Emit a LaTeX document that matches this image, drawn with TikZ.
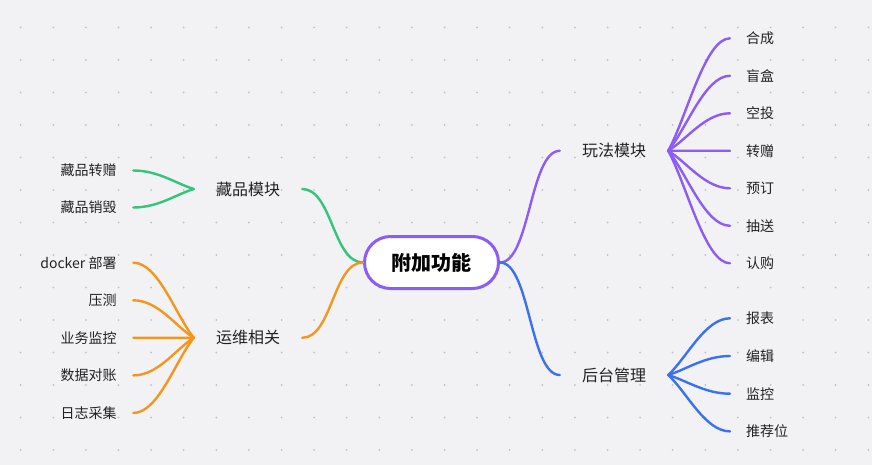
\documentclass[tikz,border=0pt]{standalone}
\usepackage{fontspec}
\setmainfont{Noto Sans CJK SC}
\usetikzlibrary{calc}
\definecolor{bgc}{RGB}{242,242,245}
\definecolor{dotc}{RGB}{192,192,198}
\definecolor{cpurple}{RGB}{139,92,246}
\definecolor{cgreen}{RGB}{52,196,122}
\definecolor{corange}{RGB}{243,150,30}
\definecolor{cblue}{RGB}{58,113,242}
\definecolor{txt}{RGB}{34,34,34}
\begin{document}
\begin{tikzpicture}[x=1pt,y=-1pt,
  rootbox/.style={draw=cpurple, line width=3pt, fill=white, rounded corners=26pt, minimum width=134pt, minimum height=52pt, inner sep=0pt, font=\fontsize{20}{24}\selectfont\bfseries, text=black},
  branchbox/.style={inner xsep=22pt, inner ysep=3pt, font=\fontsize{16}{19}\selectfont, text=txt},
  leafL/.style={anchor=east, inner xsep=16.6pt, inner ysep=2pt, font=\fontsize{14}{17}\selectfont, text=txt},
  leafR/.style={anchor=west, inner xsep=16pt, inner ysep=2pt, font=\fontsize{14}{17}\selectfont, text=txt},
  link/.style={line width=2.4pt, line cap=round},
]
\fill[bgc] (0,0) rectangle (872,465);
\useasboundingbox (0,0) rectangle (872,465);
\foreach \i in {0,...,26} {
  \foreach \j in {0,...,13} {
    \fill[dotc] (20.7+32.6*\i, 27.5+32.5*\j) circle (1pt);
  }
}
% root
\node[rootbox] (root) at (431.5,262.5) {附加功能};
% branches
\node[branchbox] (b1) at (248,189) {藏品模块};
\node[branchbox] (b2) at (248,337.8) {运维相关};
\node[branchbox] (b3) at (614,150.8) {玩法模块};
\node[branchbox] (b4) at (614,375) {后台管理};
% left leaves
\node[leafL] (g1) at (133.3,170.5) {藏品转赠};
\node[leafL] (g2) at (133.3,207.5) {藏品销毁};
\node[leafL] (o1) at (133.3,262.7) {docker 部署};
\node[leafL] (o2) at (133.3,300.3) {压测};
\node[leafL] (o3) at (133.3,337.8) {业务监控};
\node[leafL] (o4) at (133.3,375.4) {数据对账};
\node[leafL] (o5) at (133.3,413) {日志采集};
% right leaves
\node[leafR] (p1) at (730,38.3) {合成};
\node[leafR] (p2) at (730,75.8) {盲盒};
\node[leafR] (p3) at (730,113.3) {空投};
\node[leafR] (p4) at (730,150.8) {转赠};
\node[leafR] (p5) at (730,188.3) {预订};
\node[leafR] (p6) at (730,225.8) {抽送};
\node[leafR] (p7) at (730,263.3) {认购};
\node[leafR] (q1) at (730,318.3) {报表};
\node[leafR] (q2) at (730,356) {编辑};
\node[leafR] (q3) at (730,393.7) {监控};
\node[leafR] (q4) at (730,431.4) {推荐位};
% root to branches
\draw[link,cgreen] (root.west) .. controls ($(root.west)+(-30,0)$) and ($(b1.east)+(30,0)$) .. (b1.east);
\draw[link,corange] (root.west) .. controls ($(root.west)+(-30,0)$) and ($(b2.east)+(30,0)$) .. (b2.east);
\draw[link,cpurple] (root.east) .. controls ($(root.east)+(30,0)$) and ($(b3.west)+(-30,0)$) .. (b3.west);
\draw[link,cblue] (root.east) .. controls ($(root.east)+(30,0)$) and ($(b4.west)+(-30,0)$) .. (b4.west);
% branches to leaves
\foreach \l in {g1,g2}
  \draw[link,cgreen] (b1.west) .. controls ($(b1.west)!0.3!(\l.east)$) and ($(\l.east)+(25,0)$) .. (\l.east);
\foreach \l in {o1,o2,o3,o4,o5}
  \draw[link,corange] (b2.west) .. controls ($(b2.west)!0.3!(\l.east)$) and ($(\l.east)+(25,0)$) .. (\l.east);
\foreach \l in {p1,p2,p3,p4,p5,p6,p7}
  \draw[link,cpurple] (b3.east) .. controls ($(b3.east)!0.3!(\l.west)$) and ($(\l.west)+(-25,0)$) .. (\l.west);
\foreach \l in {q1,q2,q3,q4}
  \draw[link,cblue] (b4.east) .. controls ($(b4.east)!0.3!(\l.west)$) and ($(\l.west)+(-25,0)$) .. (\l.west);
\end{tikzpicture}
\end{document}
